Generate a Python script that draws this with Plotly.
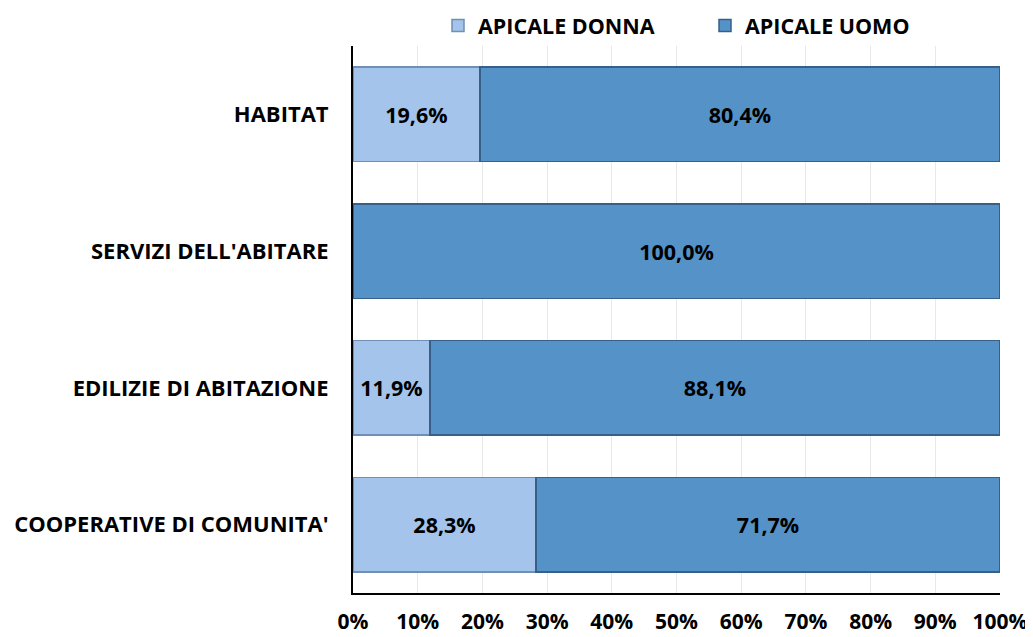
import plotly.graph_objects as go

categories = ["HABITAT", "SERVIZI DELL'ABITARE", "EDILIZIE DI ABITAZIONE", "COOPERATIVE DI COMUNITA'"]
donna = [19.6, 0.0, 11.9, 28.3]
uomo = [80.4, 100.0, 88.1, 71.7]
tick_vals = [0, 10, 20, 30, 40, 50, 60, 70, 80, 90, 100]
tick_text = [f"{v}%" for v in tick_vals]

def lab(v):
    return "" if v == 0 else f"{v:.1f}%".replace(".", ",")

FONT = "Open Sans"
fig = go.Figure()
fig.add_trace(go.Bar(
    y=categories, x=donna, orientation="h", name="APICALE DONNA",
    marker=dict(color="#a5c4ec", line=dict(color="#6f8fb5", width=1.5)),
    text=[lab(v) for v in donna], textposition="inside", insidetextanchor="middle",
    textfont=dict(family=FONT, size=21.5, color="black", weight="bold"),
))
fig.add_trace(go.Bar(
    y=categories, x=uomo, orientation="h", name="APICALE UOMO",
    marker=dict(color="#5592c8", line=dict(color="#36608a", width=1.5)),
    text=[lab(v) for v in uomo], textposition="inside", insidetextanchor="middle",
    textfont=dict(family=FONT, size=21.5, color="black", weight="bold"),
))

W, H = 1033, 637
L, R, T, B = 345, 41, 38, 52
pw = W - L - R

fig.update_layout(
    barmode="stack", bargap=0.31,
    width=W, height=H,
    margin=dict(l=L, r=R, t=T, b=B, autoexpand=False),
    paper_bgcolor="white", plot_bgcolor="white",
    font=dict(family=FONT, size=21, color="black"),
    showlegend=True,
    legend=dict(orientation="h", x=(430 - L) / pw, xanchor="left", y=1.0, yanchor="bottom",
                font=dict(family=FONT, size=21.5, color="black", weight="bold"),
                bgcolor="rgba(0,0,0,0)", traceorder="normal",
                entrywidth=222, entrywidthmode="pixels"),
    uniformtext=dict(mode="show", minsize=10),
)
fig.update_xaxes(range=[0, 100], tickvals=tick_vals, ticktext=tick_text,
                 showgrid=True, gridcolor="#e8e8e8", gridwidth=1,
                 showline=True, linecolor="black", linewidth=2, zeroline=False,
                 ticks="", ticklabelstandoff=9, automargin=False,
                 tickfont=dict(family=FONT, size=21, color="black", weight="bold"))
fig.update_yaxes(autorange="reversed", showline=True, linecolor="black", linewidth=2,
                 ticks="", ticklabelstandoff=18, automargin=False,
                 tickfont=dict(family=FONT, size=22, color="black", weight="bold"))

fig.write_html("out.html")
